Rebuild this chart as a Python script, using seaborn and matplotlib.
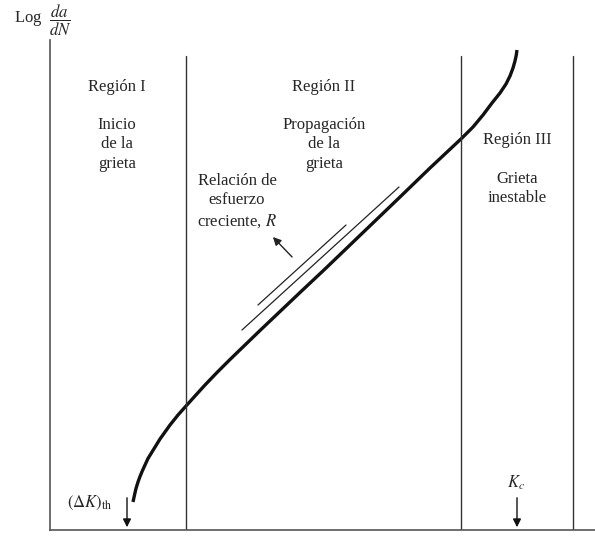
import matplotlib
matplotlib.use("Agg")
import pandas as pd
import seaborn as sns
import matplotlib.pyplot as plt

# curve (schematic units)
curve_x = [83, 84.5, 86, 88, 90, 92.5, 95, 98, 102, 106, 110, 115, 120, 128, 136, 145, 155, 167, 180, 195, 210,
           230, 250, 275, 300, 325, 350, 365, 380, 396, 412, 423, 433, 442, 450, 456, 460, 463, 465, 466.2, 467]
curve_y = [28, 35, 41.5, 48, 53.5, 59.5, 65, 71.5, 78, 84.5, 91, 98, 105, 115, 124, 134, 145, 157.5, 170.5, 185, 199.5,
           218.5, 237.5, 261, 285, 309, 333, 347.5, 362, 377, 392, 403, 415, 427, 437, 446, 454, 462, 469, 474.5, 480]

region_bounds = [136, 411, 523]
bound_top = 474

# R lines (increasing stress ratio)
r_lines = [([208, 296], [225, 305]), ([192, 349], [200, 343])]

region_labels = ["Región I", "Región II", "Región III"]
region_notes = ["Inicio\nde la\ngrieta", "Propagación\nde la\ngrieta", "Grieta\ninestable"]

sns.set_style("white")
plt.rcParams["font.family"] = ["Liberation Serif", "DejaVu Serif"]
plt.rcParams["mathtext.fontset"] = "stix"

fig = plt.figure(figsize=(5.95, 5.39), dpi=100)
ax = fig.add_axes([50 / 595, 9 / 539, 545 / 595, 490 / 539])

df = pd.DataFrame({"x": curve_x, "y": curve_y})
sns.lineplot(data=df, x="x", y="y", sort=False, color="#111111", linewidth=2.4, ax=ax,
             solid_joinstyle="round", solid_capstyle="butt")

for xb in region_bounds:
    ax.plot([xb, xb], [0, bound_top], color="#333333", linewidth=1.0)

for xs, ys in r_lines:
    ax.plot(xs, ys, color="#222222", linewidth=0.9)

ax.annotate("", xy=(221, 295), xytext=(244, 271),
            arrowprops=dict(arrowstyle="-|>", color="#222222", lw=1.0, mutation_scale=12))

fs = 12
ls = 1.28
ax.text(67, 443, region_labels[0], ha="center", va="center", fontsize=fs)
ax.text(67, 413, region_notes[0], ha="center", va="top", fontsize=fs, linespacing=ls)
ax.text(274, 443, region_labels[1], ha="center", va="center", fontsize=fs)
ax.text(274, 413, region_notes[1], ha="center", va="top", fontsize=fs, linespacing=ls)
ax.text(467, 390, region_labels[2], ha="center", va="center", fontsize=fs)
ax.text(467, 359, region_notes[2], ha="center", va="top", fontsize=fs, linespacing=ls)

ax.text(187, 357, "Relación de\nesfuerzo\ncreciente, $R$", ha="center", va="top",
        fontsize=fs, linespacing=ls)

# threshold and critical markers
ax.annotate("", xy=(77, 0), xytext=(77, 35),
            arrowprops=dict(arrowstyle="-|>", color="#111111", lw=1.0, mutation_scale=12))
ax.text(62, 27, r"$(\Delta K)_{\mathrm{th}}$", ha="right", va="center", fontsize=fs)
ax.annotate("", xy=(467, 0), xytext=(467, 35),
            arrowprops=dict(arrowstyle="-|>", color="#111111", lw=1.0, mutation_scale=12))
ax.text(466, 47, r"$K_c$", ha="center", va="center", fontsize=fs)

ax.set_xlim(0, 545)
ax.set_ylim(0, 490)
ax.set_xticks([])
ax.set_yticks([])
ax.set_xlabel("")
ax.set_ylabel("")
for side in ["top", "right"]:
    ax.spines[side].set_visible(False)
for side in ["left", "bottom"]:
    ax.spines[side].set_color("#555555")
    ax.spines[side].set_linewidth(1.2)

fig.text(14 / 595, 1 - 20 / 539, r"Log  $\dfrac{da}{dN}$", ha="left", va="center", fontsize=fs)

fig.savefig("out.png", dpi=100)
